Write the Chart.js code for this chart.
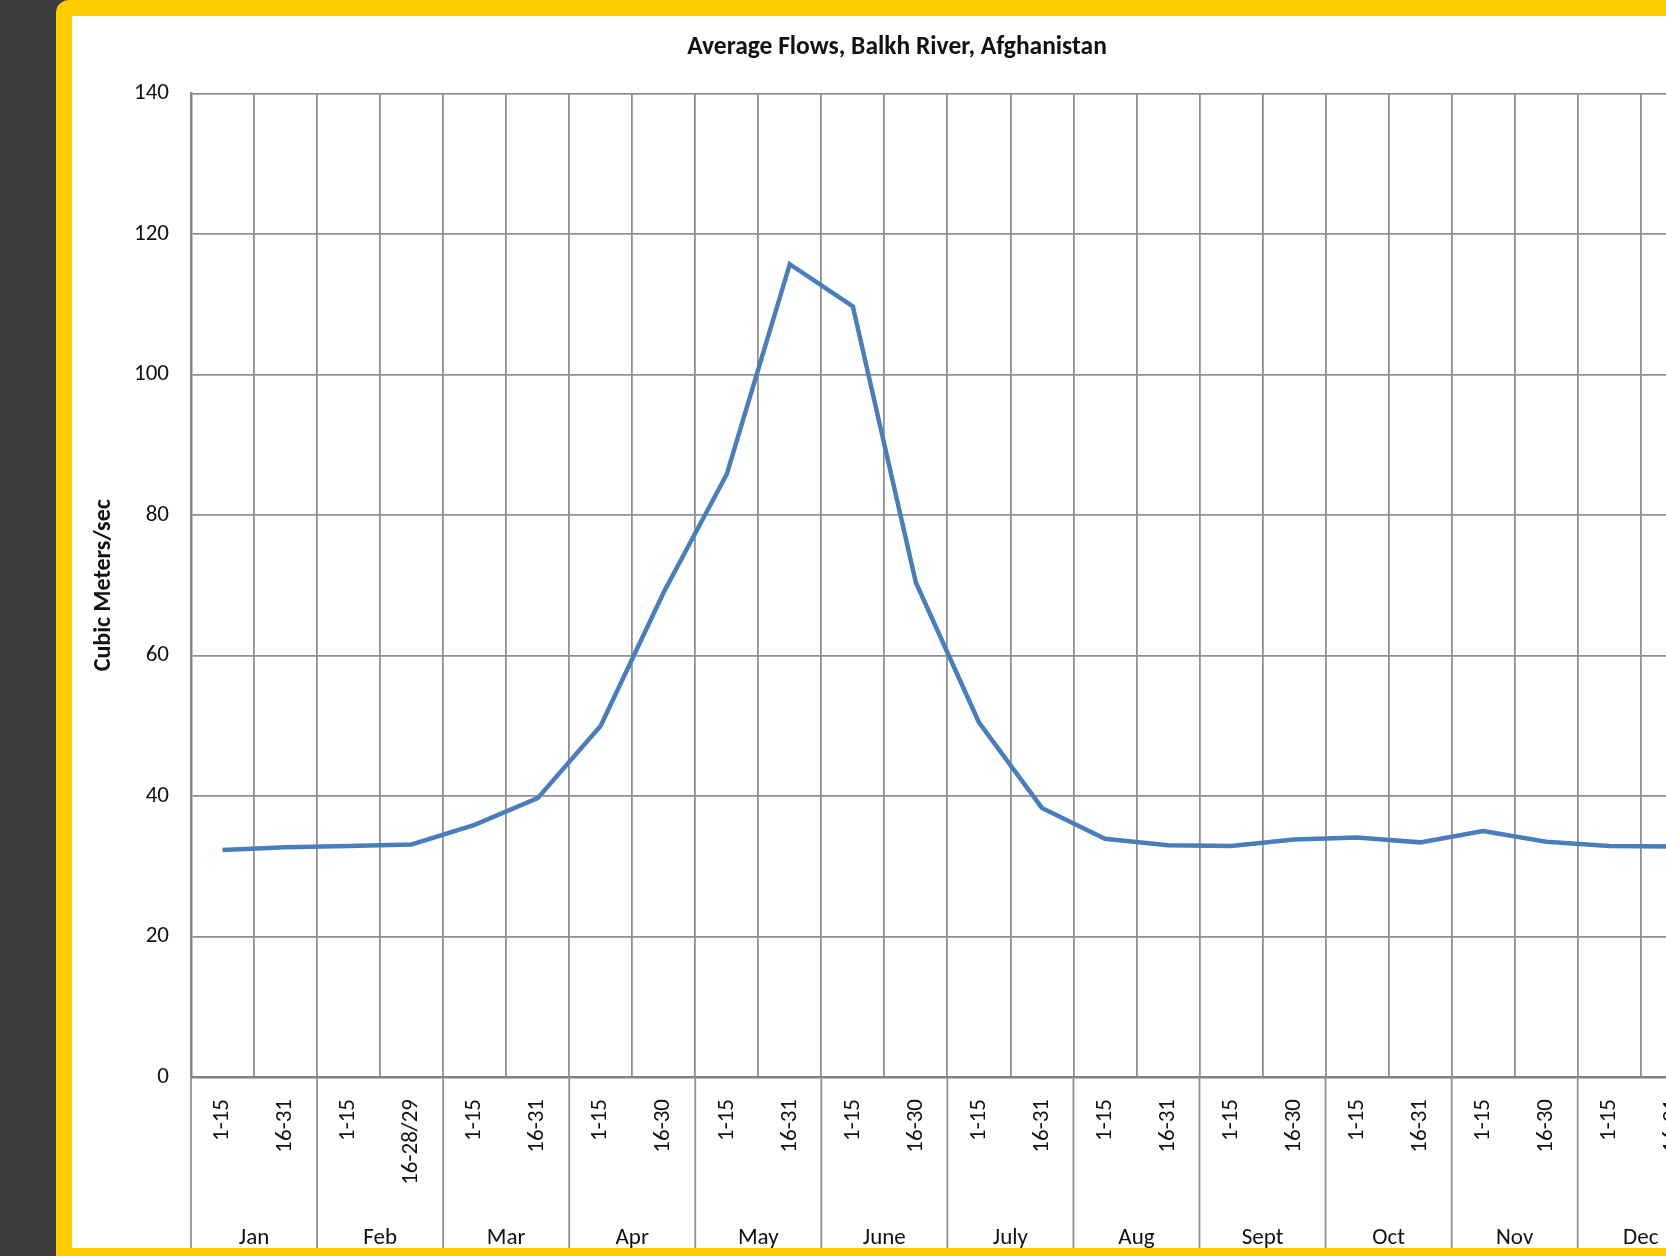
<!DOCTYPE html>
<html>
<head>
<meta charset="utf-8">
<title>Average Flows, Balkh River, Afghanistan</title>
<script src="https://cdn.jsdelivr.net/npm/chart.js@4.4.1/dist/chart.umd.min.js"></script>
<style>
  html, body { margin: 0; padding: 0; width: 1666px; height: 1256px; overflow: hidden; background: #3d3d3d; }
  #frame { position: absolute; left: 56px; top: 0; width: 1720px; height: 1300px; background: #ffcc00; border-radius: 13px; }
  #panel { position: absolute; left: 72px; top: 16px; width: 1650px; height: 1232px; background: #fff; }
</style>
</head>
<body>
<div id="frame"></div>
<div id="panel"><canvas id="flowChart" width="1650" height="1232"></canvas></div>
<script>
const months = ['Jan', 'Feb', 'Mar', 'Apr', 'May', 'June', 'July', 'Aug', 'Sept', 'Oct', 'Nov', 'Dec'];
const periods = [
  '1-15', '16-31', '1-15', '16-28/29', '1-15', '16-31', '1-15', '16-30',
  '1-15', '16-31', '1-15', '16-30', '1-15', '16-31', '1-15', '16-31',
  '1-15', '16-30', '1-15', '16-31', '1-15', '16-30', '1-15', '16-31'
];
const flows = [
  32.3, 32.7, 32.9, 33.1, 35.9, 39.7, 50.0, 69.0,
  85.8, 115.7, 109.7, 70.4, 50.5, 38.3, 33.9, 33.0,
  32.9, 33.8, 34.1, 33.4, 35.0, 33.5, 32.9, 32.8
];

const fontFamily = 'Calibri, Carlito, Lato, sans-serif';
const textColor = '#111';
const gridColor = '#909090';
const axisColor = '#848484';
const lineColor = '#4a7ebb';

// month separators below the axis, spanning both label rows
const monthDividers = {
  id: 'monthDividers',
  afterDraw(chart) {
    const xScale = chart.scales.x;
    const perMonth = periods.length / months.length;
    const ctx = chart.ctx;
    ctx.save();
    ctx.strokeStyle = gridColor;
    ctx.lineWidth = 1.8;
    for (let m = 0; m <= months.length; m++) {
      let px;
      if (m === 0) px = xScale.left;
      else if (m === months.length) px = xScale.right;
      else px = (xScale.getPixelForValue(m * perMonth - 1) + xScale.getPixelForValue(m * perMonth)) / 2;
      ctx.beginPath();
      ctx.moveTo(px, chart.chartArea.bottom);
      ctx.lineTo(px, chart.height);
      ctx.stroke();
    }
    ctx.restore();
  }
};

new Chart(document.getElementById('flowChart'), {
  type: 'line',
  data: {
    labels: periods,
    datasets: [
      {
        data: flows,
        borderColor: lineColor,
        backgroundColor: lineColor,
        borderWidth: 4.5,
        borderJoinStyle: 'miter',
        pointRadius: 0,
        fill: false,
        tension: 0
      }
    ]
  },
  options: {
    animation: false,
    responsive: false,
    layout: {
      padding: { top: 0, right: 8, bottom: 0, left: 8 }
    },
    plugins: {
      legend: { display: false },
      tooltip: { enabled: false },
      title: {
        display: true,
        text: 'Average Flows, Balkh River, Afghanistan',
        color: textColor,
        font: { family: fontFamily, size: 25.5, weight: 'bold' },
        padding: { top: 16.5, bottom: 30.4 }
      }
    },
    scales: {
      x: {
        type: 'category',
        offset: true,
        grid: { offset: true, color: gridColor, lineWidth: 1.8, drawTicks: false },
        border: { color: axisColor, width: 2.5 },
        ticks: {
          autoSkip: false,
          minRotation: 90,
          maxRotation: 90,
          padding: 22,
          color: textColor,
          font: { family: fontFamily, size: 23 }
        },
        afterFit: scale => { scale.height = 130; }
      },
      x2: {
        type: 'category',
        labels: months,
        position: 'bottom',
        offset: true,
        grid: { display: false },
        border: { display: false },
        ticks: {
          autoSkip: false,
          maxRotation: 0,
          padding: 9,
          color: textColor,
          font: { family: fontFamily, size: 23 }
        },
        afterFit: scale => { scale.height = 41; }
      },
      y: {
        min: 0,
        max: 140,
        grid: { color: gridColor, lineWidth: 1.8, drawTicks: false },
        border: { color: axisColor, width: 2.5 },
        ticks: {
          stepSize: 20,
          padding: 22,
          color: textColor,
          font: { family: fontFamily, size: 23 }
        },
        title: {
          display: true,
          text: 'Cubic Meters/sec',
          color: textColor,
          font: { family: fontFamily, size: 24, weight: 'bold' },
          padding: { top: 9.6, bottom: 0 }
        },
        afterFit: scale => { scale.width = 111; }
      }
    }
  },
  plugins: [monthDividers]
});
</script>
</body>
</html>
